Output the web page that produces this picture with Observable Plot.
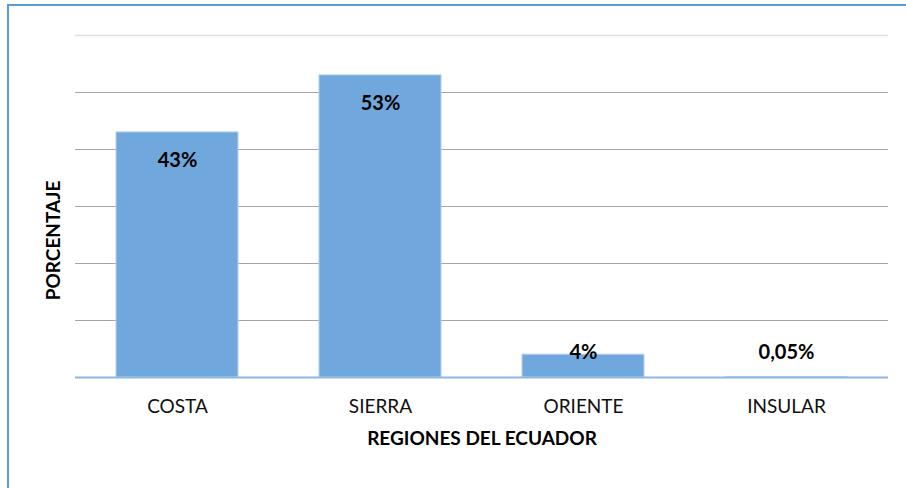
<!DOCTYPE html>
<html><head><meta charset="utf-8">
<script src="https://cdn.jsdelivr.net/npm/d3@7"></script>
<script src="https://cdn.jsdelivr.net/npm/@observablehq/plot@0.6"></script>
<style>
body{margin:0;background:#fff;}
#wrap{position:relative;width:906px;height:488px;overflow:hidden;}
#frame{position:absolute;left:7px;top:4px;width:920px;height:500px;border-left:2px solid #5b9bd5;border-top:2px solid #5b9bd5;pointer-events:none;}
</style></head>
<body><div id="wrap"><div id="chart"></div><div id="frame"></div></div>
<script>
const regions = ["COSTA", "SIERRA", "ORIENTE", "INSULAR"];
const values = [43, 53, 4, 0.05];
const labels = ["43%", "53%", "4%", "0,05%"];
const gridTicks = [10, 20, 30, 40, 50];

const data = regions.map((r, i) => ({region: r, value: values[i], label: labels[i]}));
const font = "Lato, 'Open Sans', sans-serif";

const chart = Plot.plot({
  width: 906, height: 488,
  marginLeft: 75, marginRight: 18, marginTop: 35, marginBottom: 111,
  style: {fontFamily: font, background: "transparent", fontSize: "19px"},
  x: {domain: regions, paddingInner: 0.4, paddingOuter: 0.2, label: null},
  y: {domain: [0, 60], axis: null},
  marks: [
    Plot.ruleY(gridTicks, {stroke: "#a6a6a6", strokeWidth: 1.2}),
    Plot.ruleY([60], {stroke: "#e0e0e0", strokeWidth: 1.5}),
    Plot.barY(data, {x: "region", y: "value", fill: "#70a7dc", stroke: "#b4d0ee", strokeWidth: 1}),
    Plot.ruleY([0], {stroke: "#8db8e4", strokeWidth: 2}),
    Plot.text(data, {x: "region", y: d => Math.max(d.value - 4.9, 4.4), text: "label",
      fontWeight: "bold", fontSize: 20, fill: "#000"}),
    Plot.axisX({tickSize: 0, tickPadding: 22, fontSize: 19, fill: "#111", label: null}),
    Plot.text(["REGIONES DEL ECUADOR"], {frameAnchor: "bottom", dy: 67, fontWeight: "bold", fontSize: 19, fill: "#000"}),
    Plot.text(["PORCENTAJE"], {frameAnchor: "left", textAnchor: "middle", dx: -22, dy: 34, rotate: -90, fontWeight: "bold", fontSize: 19, fill: "#000"})
  ]
});
document.getElementById("chart").appendChild(chart);
</script></body></html>
